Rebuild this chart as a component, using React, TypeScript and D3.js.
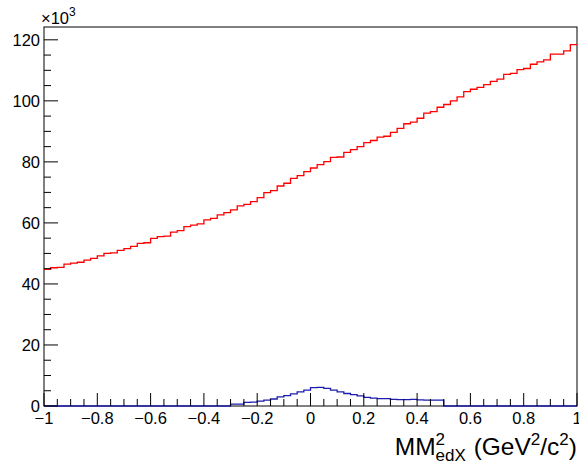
import { useEffect, useRef } from "react";
import * as d3 from "d3";

// binning of MM^2_edX, 80 bins over [-1, 1]
const binLow = -1;
const binHigh = 1;
const nBins = 80;

// counts in units of 10^3
const redCounts = [
  44.8, 45.3, 45.4, 46.5, 46.8, 47.1, 47.8, 48.4, 49.2, 50.0,
  50.2, 51.0, 51.6, 52.3, 53.3, 53.5, 54.9, 55.5, 55.7, 57.0,
  57.5, 58.8, 59.3, 59.7, 61.0, 61.5, 62.6, 63.4, 64.3, 65.6,
  66.1, 67.0, 68.3, 69.9, 70.6, 72.1, 73.0, 74.6, 75.5, 76.8,
  78.0, 79.1, 80.1, 81.5, 81.6, 83.1, 84.0, 85.0, 86.3, 87.0,
  88.1, 88.4, 89.7, 91.0, 92.5, 93.0, 94.3, 96.0, 96.5, 97.9,
  98.8, 100.0, 101.3, 103.0, 103.8, 104.4, 105.3, 106.4, 107.1, 108.7,
  109.0, 110.2, 110.6, 112.0, 112.8, 113.4, 115.3, 115.3, 116.4, 118.4,
];

const blueCounts = [
  0, 0, 0, 0, 0, 0, 0, 0, 0, 0,
  0, 0, 0, 0, 0, 0, 0, 0, 0, 0,
  0, 0, 0, 0, 0, 0, 0, 0, 0.6, 0.6,
  1.2, 1.3, 1.6, 1.9, 2.3, 3.0, 3.4, 4.0, 4.6, 5.2,
  6.0, 6.1, 5.8, 5.2, 4.6, 4.1, 3.7, 3.3, 2.8, 2.6,
  2.4, 2.4, 2.2, 2.1, 2.1, 2.2, 2.0, 1.9, 1.9, 1.9,
  0, 0, 0, 0, 0, 0, 0, 0, 0, 0,
  0, 0, 0, 0, 0, 0, 0, 0, 0, 0,
];

const yMajorTicks = [0, 20, 40, 60, 80, 100, 120];
const xMajorTicks = [-1, -0.8, -0.6, -0.4, -0.2, 0, 0.2, 0.4, 0.6, 0.8, 1];

const FONT = "'Liberation Sans', Arial, Helvetica, sans-serif";

function App() {
  const svgRef = useRef<SVGSVGElement | null>(null);
  const width = 579;
  const height = 466;

  useEffect(() => {
    const svg = d3.select(svgRef.current);
    svg.selectAll("*").remove();

    const frame = { left: 44, right: 577, top: 27, bottom: 406 };
    const yMax = 124.2;

    const x = d3.scaleLinear().domain([binLow, binHigh]).range([frame.left, frame.right]);
    const y = d3.scaleLinear().domain([0, yMax]).range([frame.bottom, frame.top]);

    const binW = (binHigh - binLow) / nBins;
    const stepPts = (counts: number[]) => {
      const pts: [number, number][] = counts.map((c, i) => [binLow + i * binW, c]);
      pts.push([binHigh, counts[counts.length - 1]]);
      return pts;
    };

    const line = d3
      .line<[number, number]>()
      .x(d => x(d[0]))
      .y(d => y(d[1]))
      .curve(d3.curveStepAfter);

    // frame
    svg
      .append("rect")
      .attr("x", frame.left)
      .attr("y", frame.top)
      .attr("width", frame.right - frame.left)
      .attr("height", frame.bottom - frame.top)
      .attr("fill", "none")
      .attr("stroke", "black")
      .attr("stroke-width", 1);

    // histograms
    svg
      .append("path")
      .attr("d", line(stepPts(redCounts)))
      .attr("fill", "none")
      .attr("stroke", "#ff0000")
      .attr("stroke-width", 1.3);

    svg
      .append("path")
      .attr("d", line(stepPts(blueCounts)))
      .attr("fill", "none")
      .attr("stroke", "#1c1cb0")
      .attr("stroke-width", 1.3);

    // y axis (ROOT style ticks drawn inwards)
    const yMinor = d3.range(0, yMax, 5);
    const yAx = svg.append("g");
    yAx
      .selectAll("line")
      .data(yMinor)
      .enter()
      .append("line")
      .attr("x1", frame.left)
      .attr("x2", d => frame.left + (d % 20 === 0 ? 14 : 7))
      .attr("y1", d => y(d))
      .attr("y2", d => y(d))
      .attr("stroke", "black");
    yAx
      .selectAll("text")
      .data(yMajorTicks)
      .enter()
      .append("text")
      .attr("x", frame.left - 4)
      .attr("y", d => y(d) + 6)
      .attr("text-anchor", "end")
      .style("font-family", FONT)
      .style("font-size", "16.5px")
      .text(d => d);

    // x axis
    const xMinor = d3.range(0, 41).map(i => binLow + i * 0.05);
    const xAx = svg.append("g");
    xAx
      .selectAll("line")
      .data(xMinor)
      .enter()
      .append("line")
      .attr("x1", d => x(d))
      .attr("x2", d => x(d))
      .attr("y1", frame.bottom)
      .attr("y2", (d, i) => frame.bottom - (i % 4 === 0 ? 13 : 7))
      .attr("stroke", "black");
    xAx
      .selectAll("text")
      .data(xMajorTicks)
      .enter()
      .append("text")
      .attr("x", d => x(d))
      .attr("y", 424)
      .attr("text-anchor", "middle")
      .style("font-family", FONT)
      .style("font-size", "16.5px")
      .text(d => (d < 0 ? "\u2212" + String(Math.abs(d)) : String(d)));

    // exponent label
    const expo = svg.append("text").attr("x", 41).attr("y", 24).style("font-family", FONT);
    expo.append("tspan").style("font-size", "16.5px").text("\u00d710");
    expo.append("tspan").style("font-size", "12px").attr("dy", -8).text("3");

    // x axis title: MM^2_edX (GeV^2/c^2), built piece by piece, right aligned
    const big = 24.5;
    const small = 17;
    const base = 455;
    const title = svg.append("g").style("font-family", FONT);
    let cx = 0;
    const put = (t: string, size: number, dy: number) => {
      const el = title
        .append("text")
        .attr("x", cx)
        .attr("y", base + dy)
        .style("font-size", size + "px")
        .style("white-space", "pre")
        .text(t);
      return (el.node() as SVGTextElement).getComputedTextLength();
    };
    cx += put("MM", big, 0);
    const wSup = put("2", small, -10);
    const wSub = put("edX", small, 6);
    cx += Math.max(wSup, wSub) + 1;
    cx += put("\u00a0(GeV", big, 0);
    cx += put("2", small, -10);
    cx += put("/c", big, 0);
    cx += put("2", small, -10);
    cx += put(")", big, 0);
    title.attr("transform", `translate(${frame.right - cx}, 0)`);
  }, []);

  return (
    <svg
      ref={svgRef}
      width={width}
      height={height}
      style={{ position: "absolute", left: 0, top: 0, background: "white" }}
    />
  );
}

export default App;
